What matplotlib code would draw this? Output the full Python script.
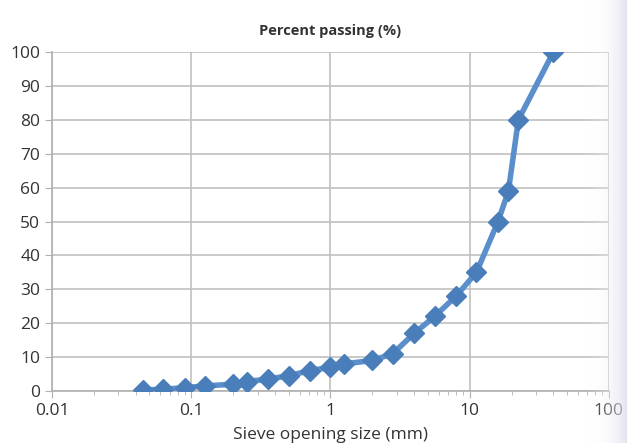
import numpy as np
import matplotlib.pyplot as plt
from matplotlib.ticker import LogLocator, FixedLocator, NullFormatter
from matplotlib.colors import LinearSegmentedColormap

# sieve sizes (mm) and percent passing
sieve_mm = [0.045, 0.063, 0.09, 0.125, 0.2, 0.25, 0.355, 0.5, 0.71, 1.0, 1.25,
            2.0, 2.8, 4.0, 5.6, 8.0, 11.2, 16.0, 19.0, 22.4, 40.0]
passing = [0.3, 0.5, 1.0, 1.5, 2.0, 2.8, 3.5, 4.5, 6.0, 7.0, 8.0,
           9.0, 11.0, 17.0, 22.0, 28.0, 35.0, 50.0, 59.0, 80.0, 100.0]

x_ticks = [0.01, 0.1, 1, 10, 100]
x_labels = ['0.01', '0.1', '1', '10', '100']
y_ticks = list(range(0, 101, 10))

plt.rcParams['font.family'] = ['Open Sans', 'DejaVu Sans']

fig = plt.figure(figsize=(6.27, 4.43), dpi=100)
ax = fig.add_axes([0.083, 0.1174, 0.888, 0.7652])

ax.plot(sieve_mm, passing, color='#5b8fcb', lw=4, marker='D', ms=10,
        mfc='#4a7ebb', mec='#4a7ebb', zorder=3)

ax.set_xscale('log')
ax.set_xlim(0.01, 100)
ax.set_ylim(0, 100)
ax.xaxis.set_major_locator(FixedLocator(x_ticks))
ax.set_xticklabels(x_labels)
ax.xaxis.set_minor_locator(LogLocator(base=10, subs=np.arange(2, 10)))
ax.xaxis.set_minor_formatter(NullFormatter())
ax.set_yticks(y_ticks)

ax.grid(True, which='major', color='#c0c0c0', lw=1.2)
ax.set_axisbelow(True)
for s in ['top', 'right']:
    ax.spines[s].set_visible(False)
for s in ['left', 'bottom']:
    ax.spines[s].set_color('#b0b0b0')
    ax.spines[s].set_linewidth(1.2)
ax.tick_params(which='major', length=5, color='#b0b0b0', labelsize=12.5,
               labelcolor='#333333')
ax.tick_params(which='minor', length=3, color='#b0b0b0')

ax.set_title('Percent passing (%)', fontsize=10.5, fontweight='bold',
             color='#333333', pad=12)
ax.set_xlabel('Sieve opening size (mm)', fontsize=12.5, color='#333333',
              labelpad=6)

# scan shading at the right edge
shade = fig.add_axes([0.93, 0, 0.07, 1], zorder=5)
shade.axis('off')
cmap = LinearSegmentedColormap.from_list('shade', [(1, 1, 1, 0), (0.86, 0.87, 0.92, 0.8)])
shade.imshow(np.linspace(0, 1, 50)[None, :] ** 1.5, aspect='auto', cmap=cmap,
             extent=[0, 1, 0, 1])

fig.savefig('out.png', dpi=100)
